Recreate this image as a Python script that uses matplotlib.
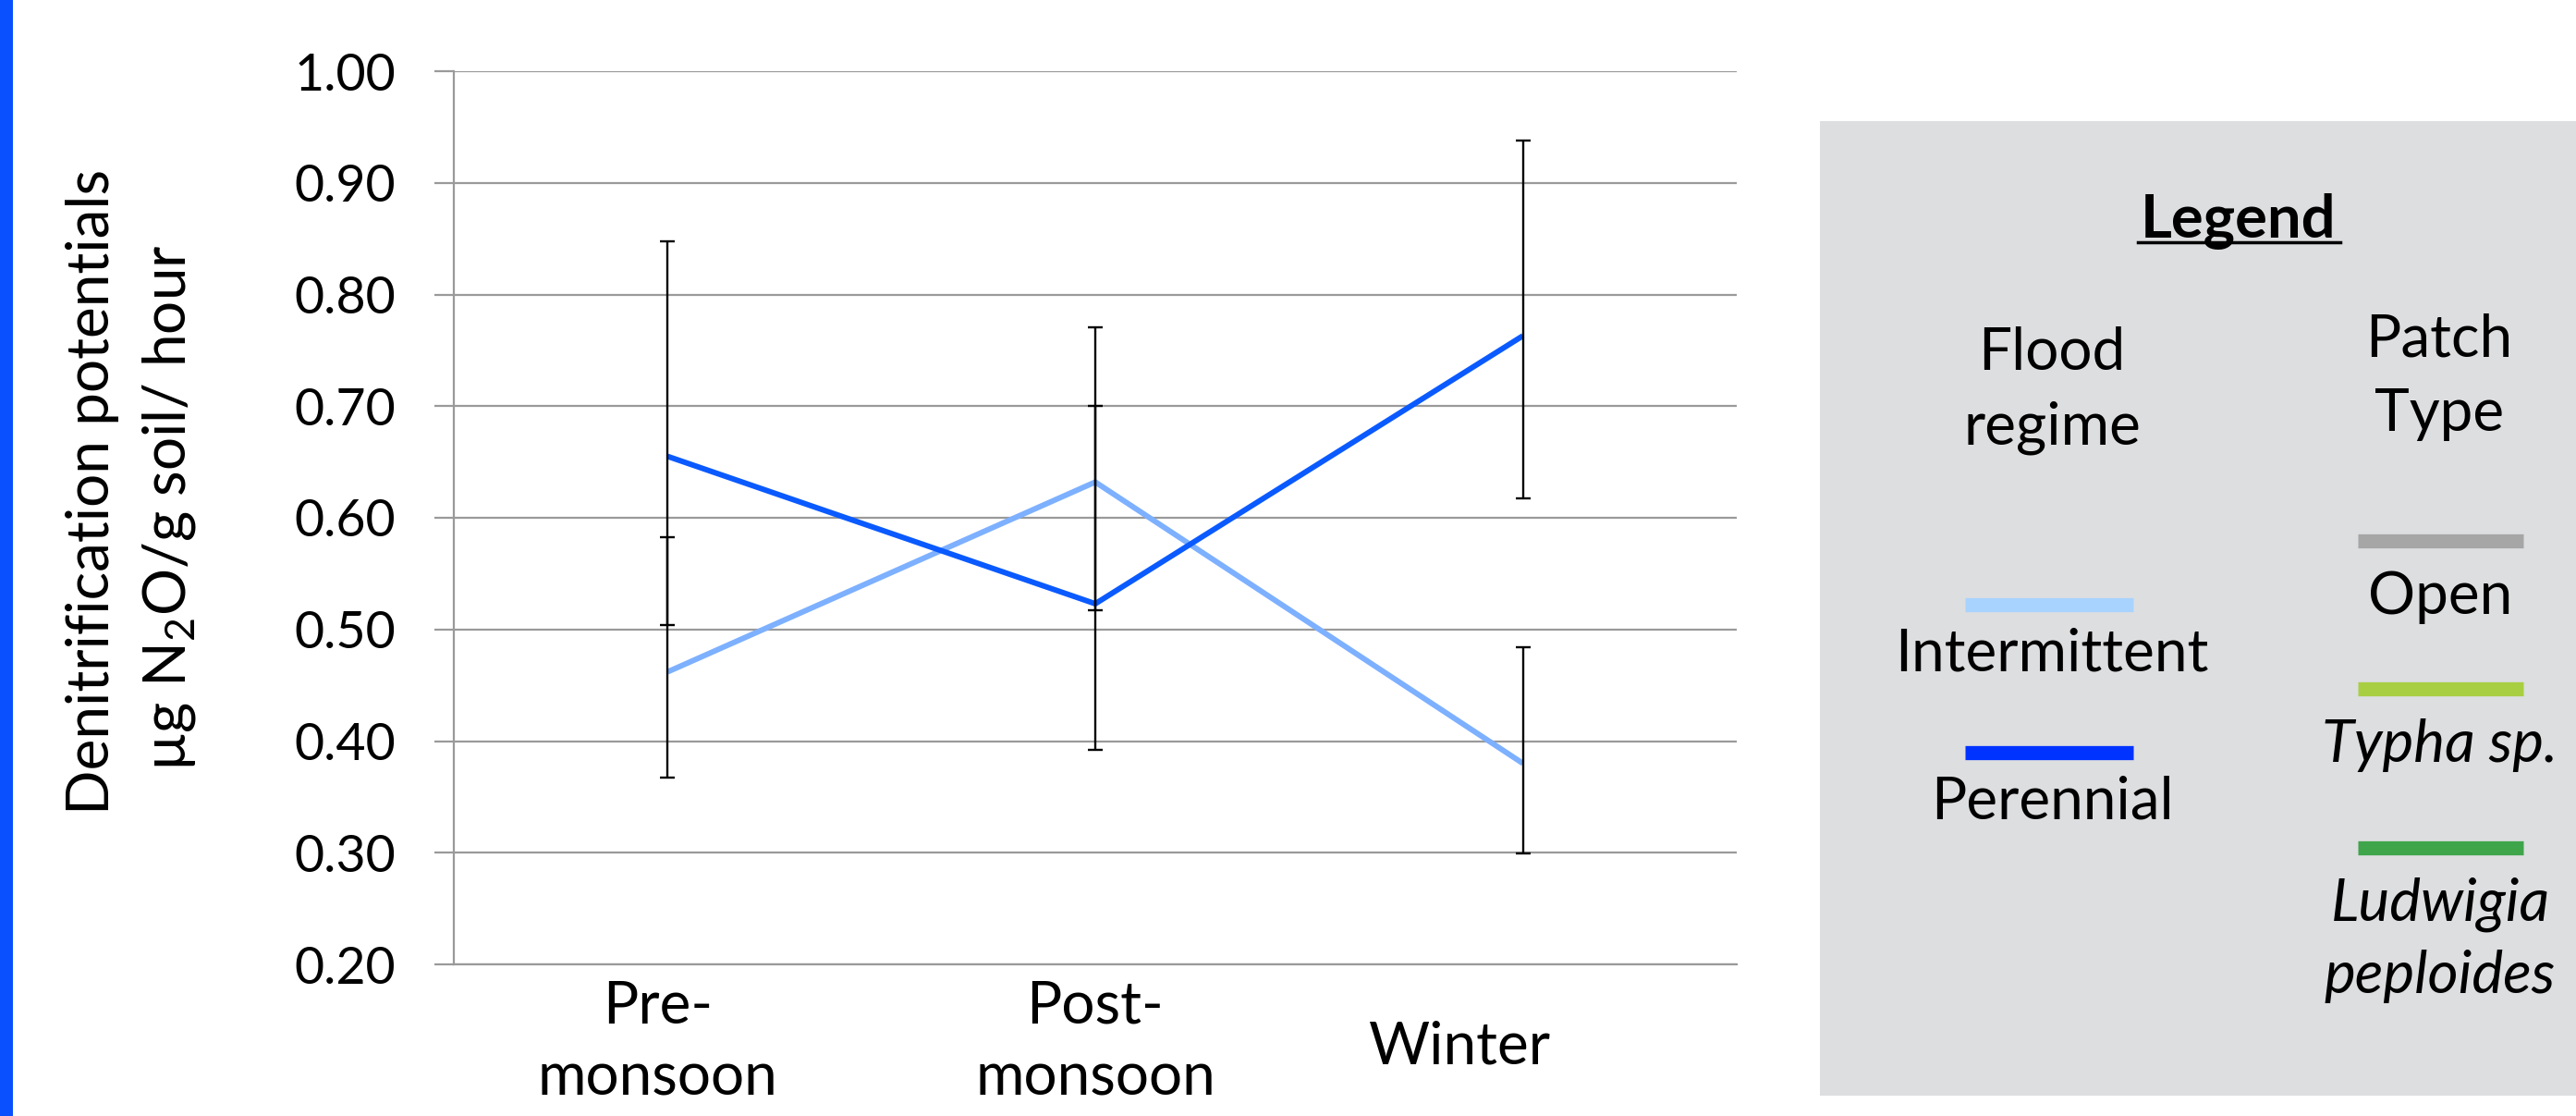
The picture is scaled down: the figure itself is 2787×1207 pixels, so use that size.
import numpy as np
import matplotlib.pyplot as plt
import matplotlib.transforms as mtransforms
from matplotlib.patches import Rectangle

plt.rcParams['font.family'] = ['Lato', 'DejaVu Sans']
plt.rcParams['mathtext.fontset'] = 'custom'
plt.rcParams['mathtext.rm'] = 'Lato'

# data
seasons = ["Pre-\nmonsoon", "Post-\nmonsoon", "Winter"]
intermittent = [0.462, 0.632, 0.380]
perennial = [0.655, 0.523, 0.763]
intermittent_low = [0.367, 0.517, 0.299]
intermittent_high = [0.583, 0.771, 0.484]
perennial_low = [0.504, 0.392, 0.617]
perennial_high = [0.848, 0.700, 0.938]
yticks = [0.20, 0.30, 0.40, 0.50, 0.60, 0.70, 0.80, 0.90, 1.00]

flood_labels = ["Intermittent", "Perennial"]
flood_colors = ["#a9d3ff", "#0033ff"]
patch_labels = ["Open", "Typha sp.", "Ludwigia\npeploides"]
patch_colors = ["#a6a6a6", "#a8cf42", "#3fa54b"]

c_int = "#7db0ff"
c_per = "#0a5aff"
grid_c = "#9a9a9a"

W, H = 2787, 1207
fig = plt.figure(figsize=(W / 100, H / 100), dpi=100)

# overlay in pixel coordinates for decorations
ov = fig.add_axes([0, 0, 1, 1])
ov.set_xlim(0, W)
ov.set_ylim(H, 0)
ov.axis('off')
ov.add_patch(Rectangle((0, 0), 14, H, color="#0a50ff", lw=0))
ov.add_patch(Rectangle((1969, 131), W - 1969, 1054, color="#dddee0", lw=0))

ax = fig.add_axes([491 / W, 164 / H, 1388 / W, 966 / H])
x = np.arange(len(seasons))
ax.plot(x, intermittent, color=c_int, lw=4.3, zorder=3, solid_capstyle='butt')
ax.plot(x, perennial, color=c_per, lw=4.3, zorder=3, solid_capstyle='butt')

for vals, lo, hi in [(intermittent, intermittent_low, intermittent_high),
                     (perennial, perennial_low, perennial_high)]:
    vals, lo, hi = np.array(vals), np.array(lo), np.array(hi)
    ax.errorbar(x, vals, yerr=[vals - lo, hi - vals], fmt='none', ecolor='black',
                elinewidth=1.7, capsize=5.8, capthick=1.7, zorder=4)

ax.set_xlim(-0.5, 2.5)
ax.set_ylim(0.2, 1.0)
ax.set_yticks(yticks)
ax.set_yticklabels([f"{v:.2f}" for v in yticks], fontsize=40)
ax.set_xticks(x)
ax.set_xticklabels(seasons, fontsize=46, linespacing=1.42)
ax.grid(axis='y', color=grid_c, lw=1.6, zorder=0)
ax.set_axisbelow(True)
for s in ['top', 'right']:
    ax.spines[s].set_visible(False)
ax.spines['left'].set_color(grid_c)
ax.spines['left'].set_linewidth(1.6)
ax.spines['bottom'].set_color(grid_c)
ax.spines['bottom'].set_linewidth(1.6)
ax.tick_params(axis='y', length=15, width=1.6, color=grid_c, pad=30)
ax.tick_params(axis='x', length=0, pad=12)

label_shift = [(-11, 0), (0, 0), (-69, -44)]
for lab, (dx, dy) in zip(ax.get_xticklabels(), label_shift):
    lab.set_transform(lab.get_transform() +
                      mtransforms.ScaledTranslation(dx / 100, dy / 100, fig.dpi_scale_trans))

# y axis title
ov.text(118, 532, "Denitrification potentials", rotation=90, rotation_mode='anchor',
        ha='center', va='baseline', fontsize=46)
ov.text(200, 549, "µg N$_2$O/g soil/ hour", rotation=90, rotation_mode='anchor',
        ha='center', va='baseline', fontsize=46)

# legend panel
ov.text(2422, 257, "Legend", ha='center', va='baseline', fontsize=47, fontweight='bold')
ov.plot([2313, 2532], [262, 262], color='black', lw=2.5)
ov.text(2220, 400, "Flood", ha='center', va='baseline', fontsize=46)
ov.text(2220, 480, "regime", ha='center', va='baseline', fontsize=46)
ov.text(2639, 386, "Patch", ha='center', va='baseline', fontsize=46)
ov.text(2639, 466, "Type", ha='center', va='baseline', fontsize=46)

flood_y = [654, 814]
for lab, col, yy in zip(flood_labels, flood_colors, flood_y):
    ov.plot([2126, 2308], [yy, yy], color=col, lw=11, solid_capstyle='butt')
    ov.text(2220, yy + 71, lab, ha='center', va='baseline', fontsize=46)

patch_y = [585, 745, 917]
for lab, col, yy in zip(patch_labels, patch_colors, patch_y):
    ov.plot([2551, 2730], [yy, yy], color=col, lw=11, solid_capstyle='butt')
    style = 'normal' if lab == "Open" else 'italic'
    for k, part in enumerate(lab.split("\n")):
        ov.text(2640, yy + 79 + 78 * k, part, ha='center', va='baseline',
                fontsize=46, fontstyle=style)

fig.savefig("out.png", dpi=100)
